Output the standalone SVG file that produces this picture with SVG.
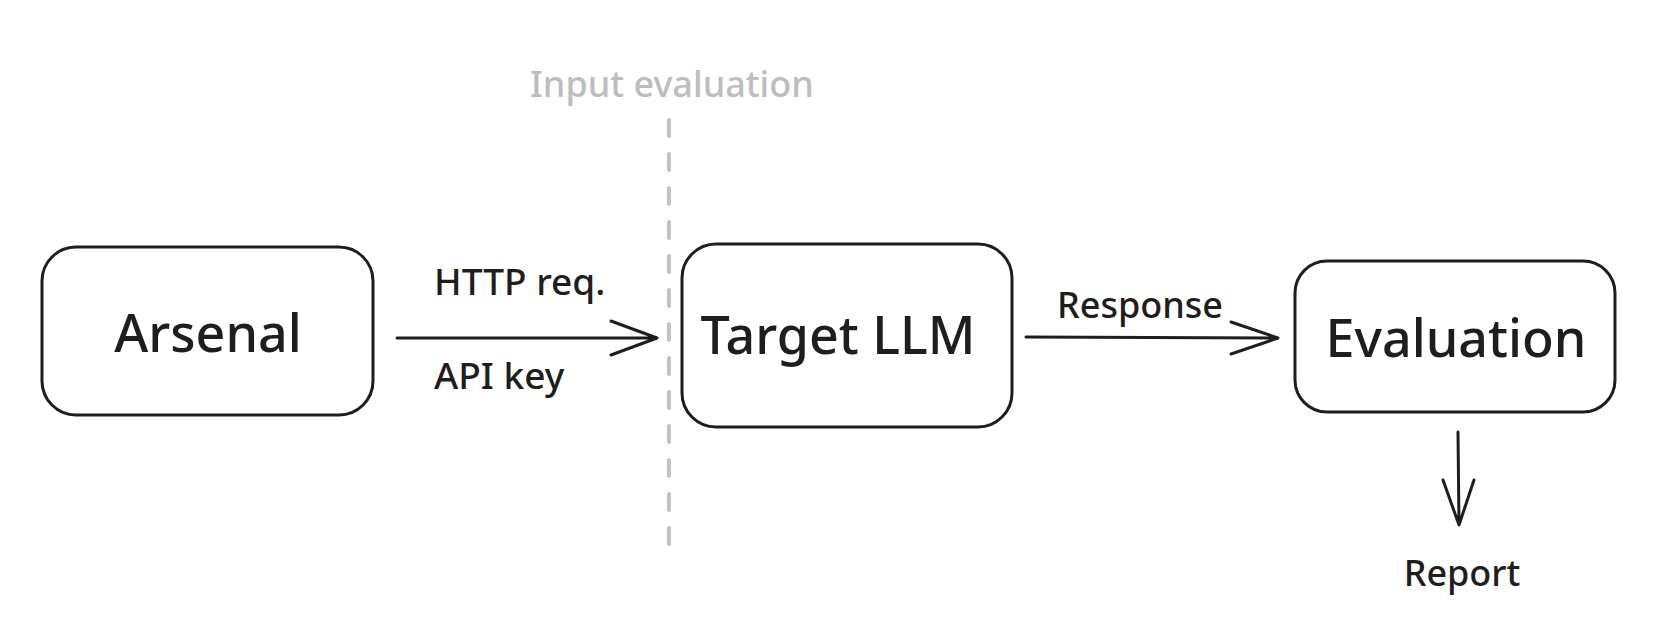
<svg xmlns="http://www.w3.org/2000/svg" width="1676" height="644" viewBox="0 0 1676 644">
<style>
.box{fill:#fff;stroke:#1e1e1e;stroke-width:3}
.big{font-family:"Noto Sans",sans-serif;font-size:52px;font-weight:500;fill:#1e1e1e;text-anchor:middle}
.lbl{font-family:"Noto Sans",sans-serif;font-size:37px;font-weight:500;fill:#1e1e1e}
.edge{fill:none;stroke:#1e1e1e;stroke-width:3;stroke-linecap:round;stroke-linejoin:round}
</style>
<rect width="1676" height="644" fill="#fff"/>
<g id="divider">
<line x1="669" y1="120" x2="669" y2="547" stroke="#c2c2c2" stroke-width="4" stroke-linecap="round" stroke-dasharray="16 18"/>
<text x="672" y="97" class="lbl" style="fill:#bdbdbd;font-size:36px" text-anchor="middle">Input evaluation</text>
</g>
<g id="arsenal">
<rect class="box" x="42" y="247" width="331" height="168" rx="34"/>
<text class="big" x="208" y="352">Arsenal</text>
</g>
<g id="target">
<rect class="box" x="682" y="244" width="330" height="183" rx="34"/>
<text class="big" x="838" y="354">Target LLM</text>
</g>
<g id="evaluation">
<rect class="box" x="1295" y="261" width="320" height="151" rx="32"/>
<text class="big" x="1456" y="357">Evaluation</text>
</g>
<g id="report">
<text class="lbl" x="1462" y="586" text-anchor="middle" style="font-size:36px">Report</text>
</g>
<g id="connectors">
<path class="edge" d="M397 338 L657 338 M611 321 L657 338 L611 355"/>
<text class="lbl" x="434" y="295">HTTP req.</text>
<text class="lbl" x="434" y="389">API key</text>
<path class="edge" d="M1026 337 L1278 338 M1231 322 L1278 338 L1231 354"/>
<text class="lbl" x="1140" y="318" text-anchor="middle" style="font-size:36px">Response</text>
<path class="edge" d="M1458 432 L1459 525 M1443 480 L1459 525 L1474 480"/>
</g>
</svg>
